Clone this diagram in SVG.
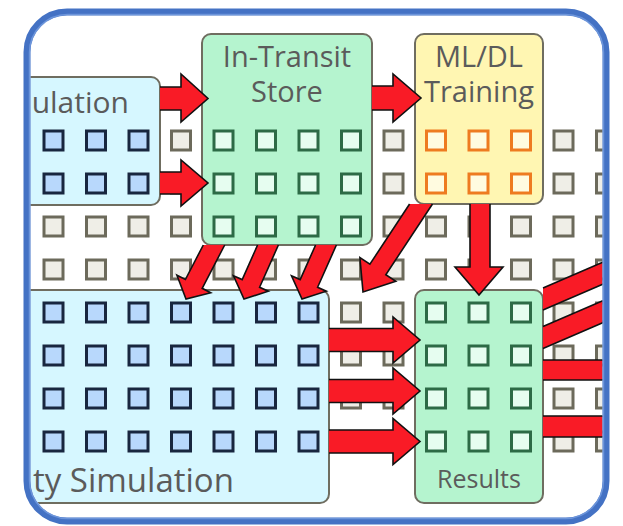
<svg xmlns="http://www.w3.org/2000/svg" xmlns:xlink="http://www.w3.org/1999/xlink" width="623" height="526" viewBox="0 0 623 526">
<style>
.g{fill:#efeee7;stroke:#6c6a5b;stroke-width:3}
.b{fill:#b8d8fc;stroke:#18263f;stroke-width:3}
.n{fill:#e6fdf0;stroke:#2d6a46;stroke-width:3}
.o{fill:#fffbe0;stroke:#ee7b20;stroke-width:3}
.box{stroke:#6f6d60;stroke-width:2}
.sim{fill:#d6f7ff}
.mint{fill:#b5f4cf}
.yel{fill:#fff6b2}
.arr{fill:#f91b26;stroke:#111;stroke-width:1.6;stroke-linejoin:miter}
.t{font-family:"Open Sans","Liberation Sans",sans-serif;fill:#5b5b5b}
</style>
<defs>
<rect id="s" width="19" height="19"/>
<clipPath id="clip"><rect x="30.5" y="15.5" width="572" height="502" rx="37"/></clipPath>
</defs>
<rect width="623" height="526" fill="#fff"/>
<g clip-path="url(#clip)">
<g id="grid">
<use href="#s" class="g" x="171.5" y="131"/><use href="#s" class="g" x="384" y="131"/><use href="#s" class="g" x="554" y="131"/><use href="#s" class="g" x="596.5" y="131"/>
<use href="#s" class="g" x="171.5" y="174"/><use href="#s" class="g" x="384" y="174"/><use href="#s" class="g" x="554" y="174"/><use href="#s" class="g" x="596.5" y="174"/>
<use href="#s" class="g" x="44" y="217"/><use href="#s" class="g" x="86.5" y="217"/><use href="#s" class="g" x="129" y="217"/><use href="#s" class="g" x="171.5" y="217"/><use href="#s" class="g" x="384" y="217"/><use href="#s" class="g" x="426.5" y="217"/><use href="#s" class="g" x="469" y="217"/><use href="#s" class="g" x="511.5" y="217"/><use href="#s" class="g" x="554" y="217"/><use href="#s" class="g" x="596.5" y="217"/>
<use href="#s" class="g" x="44" y="260"/><use href="#s" class="g" x="86.5" y="260"/><use href="#s" class="g" x="129" y="260"/><use href="#s" class="g" x="171.5" y="260"/><use href="#s" class="g" x="214" y="260"/><use href="#s" class="g" x="256.5" y="260"/><use href="#s" class="g" x="299" y="260"/><use href="#s" class="g" x="341.5" y="260"/><use href="#s" class="g" x="384" y="260"/><use href="#s" class="g" x="426.5" y="260"/><use href="#s" class="g" x="469" y="260"/><use href="#s" class="g" x="511.5" y="260"/><use href="#s" class="g" x="554" y="260"/><use href="#s" class="g" x="596.5" y="260"/>
<use href="#s" class="g" x="341.5" y="303"/><use href="#s" class="g" x="384" y="303"/><use href="#s" class="g" x="554" y="303"/><use href="#s" class="g" x="596.5" y="303"/>
<use href="#s" class="g" x="341.5" y="346"/><use href="#s" class="g" x="384" y="346"/><use href="#s" class="g" x="554" y="346"/><use href="#s" class="g" x="596.5" y="346"/>
<use href="#s" class="g" x="341.5" y="389"/><use href="#s" class="g" x="384" y="389"/><use href="#s" class="g" x="554" y="389"/><use href="#s" class="g" x="596.5" y="389"/>
<use href="#s" class="g" x="341.5" y="432"/><use href="#s" class="g" x="384" y="432"/><use href="#s" class="g" x="554" y="432"/><use href="#s" class="g" x="596.5" y="432"/>
</g>
<g id="simulation-top">
<rect class="box sim" x="-20" y="77" width="180" height="128" rx="9"/>
<text class="t" x="129" y="113" font-size="30" text-anchor="end">ulation</text>
<use href="#s" class="b" x="44" y="131"/><use href="#s" class="b" x="86.5" y="131"/><use href="#s" class="b" x="129" y="131"/>
<use href="#s" class="b" x="44" y="174"/><use href="#s" class="b" x="86.5" y="174"/><use href="#s" class="b" x="129" y="174"/>
</g>
<g id="in-transit-store">
<rect class="box mint" x="202" y="34" width="170" height="211" rx="9"/>
<text class="t" font-size="29" text-anchor="middle"><tspan x="287" y="66.5">In-Transit</tspan><tspan x="287" y="101.5">Store</tspan></text>
<use href="#s" class="n" x="214" y="131"/><use href="#s" class="n" x="256.5" y="131"/><use href="#s" class="n" x="299" y="131"/><use href="#s" class="n" x="341.5" y="131"/>
<use href="#s" class="n" x="214" y="174"/><use href="#s" class="n" x="256.5" y="174"/><use href="#s" class="n" x="299" y="174"/><use href="#s" class="n" x="341.5" y="174"/>
<use href="#s" class="n" x="214" y="217"/><use href="#s" class="n" x="256.5" y="217"/><use href="#s" class="n" x="299" y="217"/><use href="#s" class="n" x="341.5" y="217"/>
</g>
<g id="ml-dl-training">
<rect class="box yel" x="415" y="34" width="128" height="170" rx="9"/>
<text class="t" font-size="29" text-anchor="middle"><tspan x="479" y="66.5">ML/DL</tspan><tspan x="479" y="101.5">Training</tspan></text>
<use href="#s" class="o" x="426.5" y="131"/><use href="#s" class="o" x="469" y="131"/><use href="#s" class="o" x="511.5" y="131"/>
<use href="#s" class="o" x="426.5" y="174"/><use href="#s" class="o" x="469" y="174"/><use href="#s" class="o" x="511.5" y="174"/>
</g>
<g id="city-simulation">
<rect class="box sim" x="-20" y="290" width="349" height="213" rx="9"/>
<text class="t" x="33" y="491.5" font-size="33">ty Simulation</text>
<use href="#s" class="b" x="44" y="303"/><use href="#s" class="b" x="86.5" y="303"/><use href="#s" class="b" x="129" y="303"/><use href="#s" class="b" x="171.5" y="303"/><use href="#s" class="b" x="214" y="303"/><use href="#s" class="b" x="256.5" y="303"/><use href="#s" class="b" x="299" y="303"/>
<use href="#s" class="b" x="44" y="346"/><use href="#s" class="b" x="86.5" y="346"/><use href="#s" class="b" x="129" y="346"/><use href="#s" class="b" x="171.5" y="346"/><use href="#s" class="b" x="214" y="346"/><use href="#s" class="b" x="256.5" y="346"/><use href="#s" class="b" x="299" y="346"/>
<use href="#s" class="b" x="44" y="389"/><use href="#s" class="b" x="86.5" y="389"/><use href="#s" class="b" x="129" y="389"/><use href="#s" class="b" x="171.5" y="389"/><use href="#s" class="b" x="214" y="389"/><use href="#s" class="b" x="256.5" y="389"/><use href="#s" class="b" x="299" y="389"/>
<use href="#s" class="b" x="44" y="432"/><use href="#s" class="b" x="86.5" y="432"/><use href="#s" class="b" x="129" y="432"/><use href="#s" class="b" x="171.5" y="432"/><use href="#s" class="b" x="214" y="432"/><use href="#s" class="b" x="256.5" y="432"/><use href="#s" class="b" x="299" y="432"/>
</g>
<g id="results">
<rect class="box mint" x="415" y="290" width="128" height="213" rx="9"/>
<text class="t" x="479" y="488" font-size="25" text-anchor="middle">Results</text>
<use href="#s" class="n" x="426.5" y="303"/><use href="#s" class="n" x="469" y="303"/><use href="#s" class="n" x="511.5" y="303"/>
<use href="#s" class="n" x="426.5" y="346"/><use href="#s" class="n" x="469" y="346"/><use href="#s" class="n" x="511.5" y="346"/>
<use href="#s" class="n" x="426.5" y="389"/><use href="#s" class="n" x="469" y="389"/><use href="#s" class="n" x="511.5" y="389"/>
<use href="#s" class="n" x="426.5" y="432"/><use href="#s" class="n" x="469" y="432"/><use href="#s" class="n" x="511.5" y="432"/>
</g>
<g id="connectors">
<polyline class="arr" points="160,87 181,87 181,74 208,98.5 181,122 181,110 160,110"/>
<polyline class="arr" points="160,172 181,172 181,160 208,183 181,206 181,194 160,194"/>
<polyline class="arr" points="372,86 393,86 393,74 421,98 393,122 393,110 372,110"/>
<polyline class="arr" points="203.3,245 185.4,279.5 176.9,275.2 186,299 210.7,292.7 202.2,288.3 224.7,245"/>
<polyline class="arr" points="257.6,245 242.2,279.6 233.5,275.8 244,299 268.3,291.2 259.6,287.3 278.4,245"/>
<polyline class="arr" points="315.6,245 300.2,279.6 291.5,275.8 302,299 326.3,291.2 317.6,287.3 336.4,245"/>
<polyline class="arr" points="409.6,204 369.9,264.2 359.9,257.6 363,292 395.8,281.3 385.8,274.7 432.5,204"/>
<polyline class="arr" points="470,204 470,267 455,267 479,295 503,267 490,267 490,204"/>
<polyline class="arr" points="329,328.5 393,328.5 393,317 420,340 393,363 393,351.5 329,351.5"/>
<polyline class="arr" points="329,379.5 393,379.5 393,368 420,391 393,414 393,402.5 329,402.5"/>
<polyline class="arr" points="329,430 393,430 393,418.5 420,441.5 393,464.5 393,453 329,453"/>
<polyline class="arr" points="543,288 620,254.9 620,276.9 543,310"/>
<polyline class="arr" points="543,326.5 620,293.4 620,315.4 543,348.5"/>
<polyline class="arr" points="543,360 620,360 620,380 543,380"/>
<polyline class="arr" points="543,416 620,416 620,437 543,437"/>
</g>
</g>
<rect x="27" y="12" width="579" height="509" rx="40" fill="none" stroke="#4472c4" stroke-width="7"/>
<rect x="29.5" y="14.5" width="574" height="504" rx="38" fill="none" stroke="#7ea4e4" stroke-width="1.5" opacity="0.7"/>
</svg>
